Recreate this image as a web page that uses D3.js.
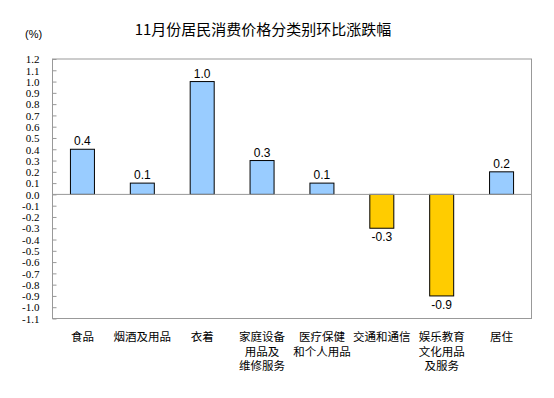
<!DOCTYPE html>
<html><head><meta charset="utf-8">
<script src="https://cdn.jsdelivr.net/npm/d3@7"></script>
<style>body{margin:0;background:#fff}</style>
</head><body>
<svg id="c" width="554" height="398"></svg>
<script>
const categories = ["食品","烟酒及用品","衣着","家庭设备\n用品及\n维修服务","医疗保健\n和个人用品","交通和通信","娱乐教育\n文化用品\n及服务","居住"];
const values = [0.4, 0.1, 1.0, 0.3, 0.1, -0.3, -0.9, 0.2];
const yTicks = [1.2,1.1,1.0,0.9,0.8,0.7,0.6,0.5,0.4,0.3,0.2,0.1,0.0,-0.1,-0.2,-0.3,-0.4,-0.5,-0.6,-0.7,-0.8,-0.9,-1.0,-1.1];
const title = "11月份居民消费价格分类别环比涨跌幅";
const unit = "(%)";

const fmt = d => (d < 0 ? "-" : "") + Math.abs(d).toFixed(1);
const svg = d3.select("#c");
const L = 52.5, R = 531.5, T = 59, B = 318.5;
const x = d3.scaleBand().domain(categories).range([L, R]);
const y = d3.scaleLinear().domain([-1.1, 1.2]).range([B, T]);
const cjk = "'Noto Sans CJK SC', sans-serif";

svg.append("text").attr("x", 263).attr("y", 35).attr("text-anchor","middle")
  .style("font-family", cjk).style("font-size","15px").attr("fill","#000").text(title);
svg.append("text").attr("x", 25).attr("y", 38)
  .style("font-family","'Liberation Sans', Arial, sans-serif").style("font-size","11px").text(unit);

// frame
svg.append("rect").attr("x", L).attr("y", T).attr("width", R-L).attr("height", B-T)
  .attr("fill","none").attr("stroke","#999").attr("stroke-width",1);

// y axis ticks & labels
const yAxis = d3.axisRight(y).tickValues(yTicks).tickSize(4).tickFormat(fmt);
const ga = svg.append("g").attr("transform", `translate(${L},0)`).call(yAxis);
ga.select(".domain").remove();
ga.selectAll(".tick line").attr("stroke","#999");
ga.selectAll(".tick text").attr("x", -13).attr("dy","0.34em").attr("text-anchor","end")
  .style("font-family","'Liberation Serif', 'Times New Roman', serif").style("font-size","11px").attr("fill","#000");

// bars
const bw = 24;
svg.selectAll("rect.bar").data(values).join("rect").attr("class","bar")
  .attr("x", (d,i) => x(categories[i]) + x.bandwidth()/2 - bw/2)
  .attr("y", d => y(Math.max(0,d)))
  .attr("width", bw)
  .attr("height", d => Math.abs(y(d) - y(0)))
  .attr("fill", d => d >= 0 ? "#99ccff" : "#ffcc00")
  .attr("stroke","#000").attr("stroke-width",1);

// zero line
svg.append("line").attr("x1", L).attr("x2", R).attr("y1", y(0)).attr("y2", y(0))
  .attr("stroke","#999").attr("stroke-width",1);

// value labels
svg.selectAll("text.val").data(values).join("text").attr("class","val")
  .attr("x", (d,i) => x(categories[i]) + x.bandwidth()/2)
  .attr("y", d => d >= 0 ? y(d) - 4 : y(d) + 13)
  .attr("text-anchor","middle")
  .style("font-family","'Liberation Sans', Arial, sans-serif").style("font-size","12px").attr("fill","#000")
  .text(fmt);

// category labels
categories.forEach((c,i) => {
  const lines = c.split("\n");
  const t = svg.append("text").attr("text-anchor","middle")
    .style("font-family", cjk).style("font-size","11.5px").attr("fill","#000");
  lines.forEach((ln,j) => {
    t.append("tspan").attr("x", x(c) + x.bandwidth()/2).attr("y", 341 + j*14.7).text(ln);
  });
});
</script>
</body></html>
